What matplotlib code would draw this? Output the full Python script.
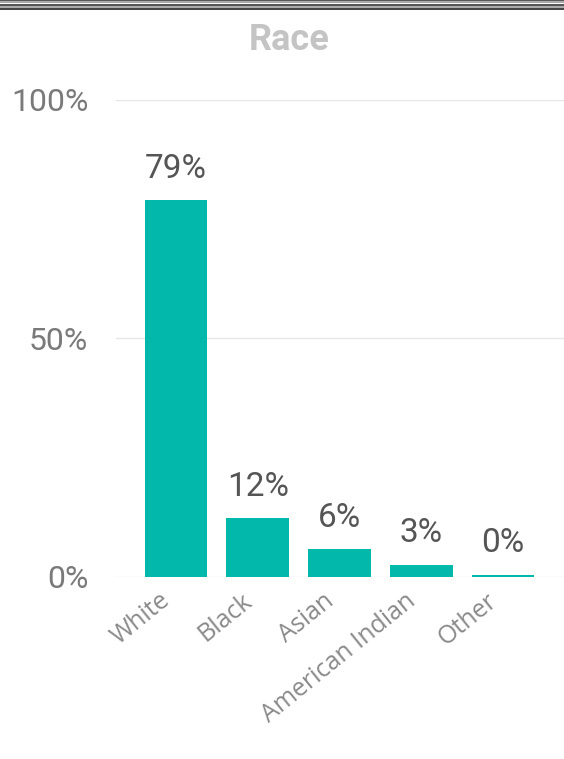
import matplotlib
matplotlib.use('Agg')
from matplotlib import pyplot as plt
from matplotlib.lines import Line2D

categories = ['White', 'Black', 'Asian', 'American Indian', 'Other']
values = [79, 12.4, 5.9, 2.6, 0.5]
yticks = [0, 50, 100]
ytick_labels = ['0%', '50%', '100%']

plt.rcParams['font.family'] = ['Roboto', 'DejaVu Sans']

fig = plt.figure(figsize=(5.64, 7.59), dpi=100)
ax = fig.add_axes([0.2057, 0.2398, 0.7943, 0.6285])

x = list(range(len(categories)))
bars = ax.bar(x, values, width=0.77, color='#01B8AA', zorder=3)
for b, v in zip(bars, values):
    ax.annotate('{:.0f}%'.format(v), (b.get_x() + b.get_width() / 2, b.get_height()),
                xytext=(0, 11), textcoords='offset points', ha='center', va='bottom',
                fontsize=24, color='#555555')

ax.set_xlim(-0.734, 4.746)
ax.set_ylim(0, 100)
ax.set_yticks(yticks)
ax.set_yticklabels(ytick_labels, fontsize=23, color='#7a7a7a')
ax.set_xticks([i - 0.2 for i in x])
ax.set_xticklabels(categories, rotation=39, ha='right', rotation_mode='anchor',
                   fontsize=18, color='#8a8a8a', family=['Open Sans', 'DejaVu Sans'])
ax.tick_params(axis='both', length=0)
ax.tick_params(axis='y', pad=20)
ax.tick_params(axis='x', pad=8)
ax.grid(axis='y', color='#e6e6e6', linewidth=1, zorder=0)
for s in ax.spines.values():
    s.set_visible(False)
ax.set_facecolor('white')

fig.text(0.512, 0.947, 'Race', ha='center', va='center', fontsize=26,
         fontweight='bold', color='#c4c4c4')

# dark frame edge at top of the screenshot
for yy, c, lw in [(0.9995, '#555555', 2), (0.997, '#aaaaaa', 1.5), (0.994, '#333333', 1.2),
                  (0.991, '#999999', 1.2), (0.988, '#222222', 1.2)]:
    fig.add_artist(Line2D([0, 1], [yy, yy], transform=fig.transFigure, color=c, linewidth=lw))

fig.savefig('out.png', dpi=100, facecolor='white')
